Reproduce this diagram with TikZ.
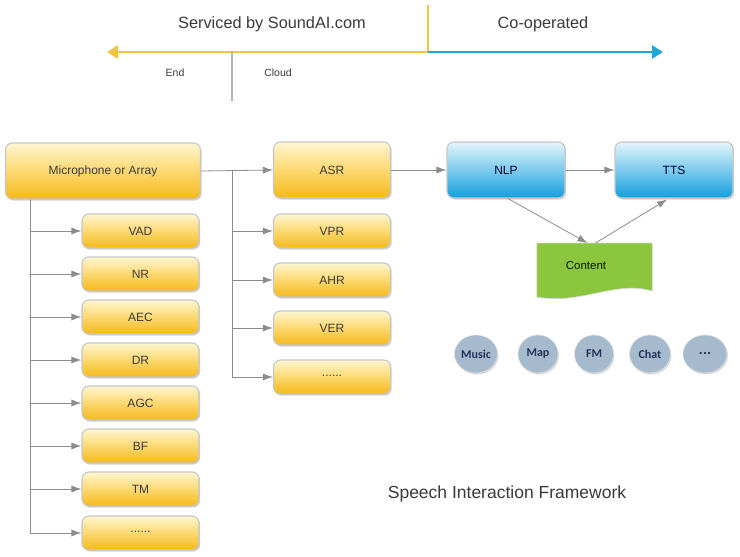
\documentclass[tikz,border=0pt]{standalone}
\usepackage{fontspec}
\setmainfont{Liberation Sans}
\newfontfamily\ellfont{Carlito}
\usetikzlibrary{arrows.meta,shadows,shapes.geometric,calc}
\definecolor{ytop}{HTML}{FFF6D2}
\definecolor{ymid}{HTML}{FCD870}
\definecolor{ybot}{HTML}{F5B91A}
\definecolor{btop}{HTML}{E4F5FC}
\definecolor{bmid}{HTML}{6CCBF0}
\definecolor{bbot}{HTML}{139FDC}
\definecolor{gfill}{HTML}{8CC63E}
\definecolor{efill}{HTML}{A5BACD}
\definecolor{etext}{HTML}{20345A}
\definecolor{hyel}{HTML}{F2C440}
\definecolor{hblue}{HTML}{1EA8D4}
\definecolor{conn}{HTML}{8C8C8C}
\definecolor{txt}{HTML}{3A3A3A}
\tikzset{
  box/.style={rounded corners=7pt, draw=black!22, line width=1.1pt,
    top color=ytop, bottom color=ybot, middle color=ymid,
    drop shadow={shadow xshift=1.2pt, shadow yshift=-1.6pt, opacity=0.35},
    text=txt, font=\fontsize{12}{14}\selectfont, inner sep=0pt},
  bigbox/.style={box, minimum height=56pt},
  smallbox/.style={box, minimum width=117pt, minimum height=34pt},
  bluebox/.style={box, top color=btop, middle color=bmid, bottom color=bbot,
    minimum width=118pt, minimum height=56pt, text=black!75!blue!60!black},
  ell/.style={ellipse, fill=efill, draw=black!12, line width=0.6pt,
    drop shadow={shadow xshift=1pt, shadow yshift=-1.5pt, opacity=0.3},
    inner sep=0pt, minimum height=38pt, text=etext,
    font=\ellfont\bfseries\fontsize{12}{14}\selectfont},
  arr/.style={draw=conn, line width=0.8pt, -{Latex[length=10pt,width=7pt]}},
}
\begin{document}
\begin{tikzpicture}[x=1pt,y=-1pt]
\useasboundingbox (0,0) rectangle (740,557);
\fill[white] (0,0) rectangle (740,557);

% header
\coordinate (split) at (428,52);
\coordinate (ltip) at (107,52);
\coordinate (rtip) at (663,52);
\coordinate (vtop) at (428,5);
\coordinate (gtop) at (232,52);
\coordinate (gbot) at (232,101);
\draw[hyel, line width=2.6pt, -{Triangle[length=11pt,width=13pt]}] (split) -- (ltip);
\draw[hyel, line width=2.6pt] (vtop) -- (split);
\draw[hblue, line width=2.6pt, -{Triangle[length=11pt,width=13pt]}] (split) -- (rtip);
\draw[black!30, line width=1.5pt] (gtop) -- (gbot);
\node[text=txt, font=\fontsize{16.3}{18}\selectfont] (serv) at (272,24) {Serviced by SoundAI.com};
\node[text=txt, font=\fontsize{16.3}{18}\selectfont] (coop) at (543,24) {Co-operated};
\node[text=txt, font=\fontsize{10.5}{12}\selectfont] (endl) at (175,73) {End};
\node[text=txt, font=\fontsize{10.5}{12}\selectfont] (cloud) at (278,73) {Cloud};

% main boxes
\node[bigbox, minimum width=195pt] (mic) at (103,171) {Microphone or Array};
\node[bigbox, minimum width=117pt] (asr) at (332,170) {ASR};
\node[bluebox] (nlp) at (506,170) {NLP};
\node[bluebox] (tts) at (674,170) {TTS};

% right column
\node[smallbox] (vpr) at (332,231) {VPR};
\node[smallbox] (ahr) at (332,280) {AHR};
\node[smallbox] (ver) at (332,328) {VER};
\node[smallbox] (rdots) at (332,377) {\raisebox{0.5ex}{......}};

% left column
\node[smallbox] (vad) at (140.5,231) {VAD};
\node[smallbox] (nr) at (140.5,274) {NR};
\node[smallbox] (aec) at (140.5,317) {AEC};
\node[smallbox] (dr) at (140.5,360) {DR};
\node[smallbox] (agc) at (140.5,403) {AGC};
\node[smallbox] (bf) at (140.5,446) {BF};
\node[smallbox] (tm) at (140.5,489) {TM};
\node[smallbox] (ldots) at (140.5,533) {\raisebox{0.5ex}{......}};

% connectors
\coordinate (rt) at (232,171);
\coordinate (lt) at (30,0);
\draw[arr] (mic.east) -- (asr.west);
\foreach \n in {vpr,ahr,ver,rdots} \draw[arr] (rt) |- (\n.west);
\foreach \n in {vad,nr,aec,dr,agc,bf,tm,ldots} \draw[arr] (mic.south -| lt) |- (\n.west);
\draw[arr] (asr.east) -- (nlp.west);
\draw[arr] (nlp.east) -- (tts.west);

% content
\node[minimum width=115pt, minimum height=50pt, anchor=north, inner sep=0pt] (content) at (594.5,243) {};
\fill[black!30, opacity=0.5, xshift=1.5pt, yshift=-1.8pt]
  (content.north west) -- (content.north east) -- ++(0,48)
  .. controls ++(-37,-11) and ++(45,8) .. ($(content.north west)+(0,54)$) -- cycle;
\fill[gfill, draw=black!15, line width=0.6pt]
  (content.north west) -- (content.north east) -- ++(0,48)
  .. controls ++(-37,-11) and ++(45,8) .. ($(content.north west)+(0,54)$) -- cycle;
\node[text=black!75!green!40!black, font=\fontsize{11.5}{13}\selectfont] (ctext) at (586,266) {Content};
\draw[arr] ($(nlp.south)+(2,0)$) -- ($(content.north)+(-7,0)$);
\draw[arr] ($(content.north)+(1,0)$) -- ($(tts.south)+(-7,1)$);

% ellipses
\node[ell, minimum width=43pt] (music) at (476,354) {Music};
\node[ell, minimum width=40pt] (map) at (538,354) {Map};
\node[ell, minimum width=39pt] (fm) at (594,354) {FM};
\node[ell, minimum width=41pt] (chat) at (650,354) {Chat};
\node[ell, minimum width=44pt] (edots) at (705,354) {\raisebox{0.3ex}{\fontsize{15}{15}\selectfont ...}};

\node[text=txt, font=\fontsize{17.5}{20}\selectfont] (title) at (507,494) {Speech Interaction Framework};
\end{tikzpicture}
\end{document}
